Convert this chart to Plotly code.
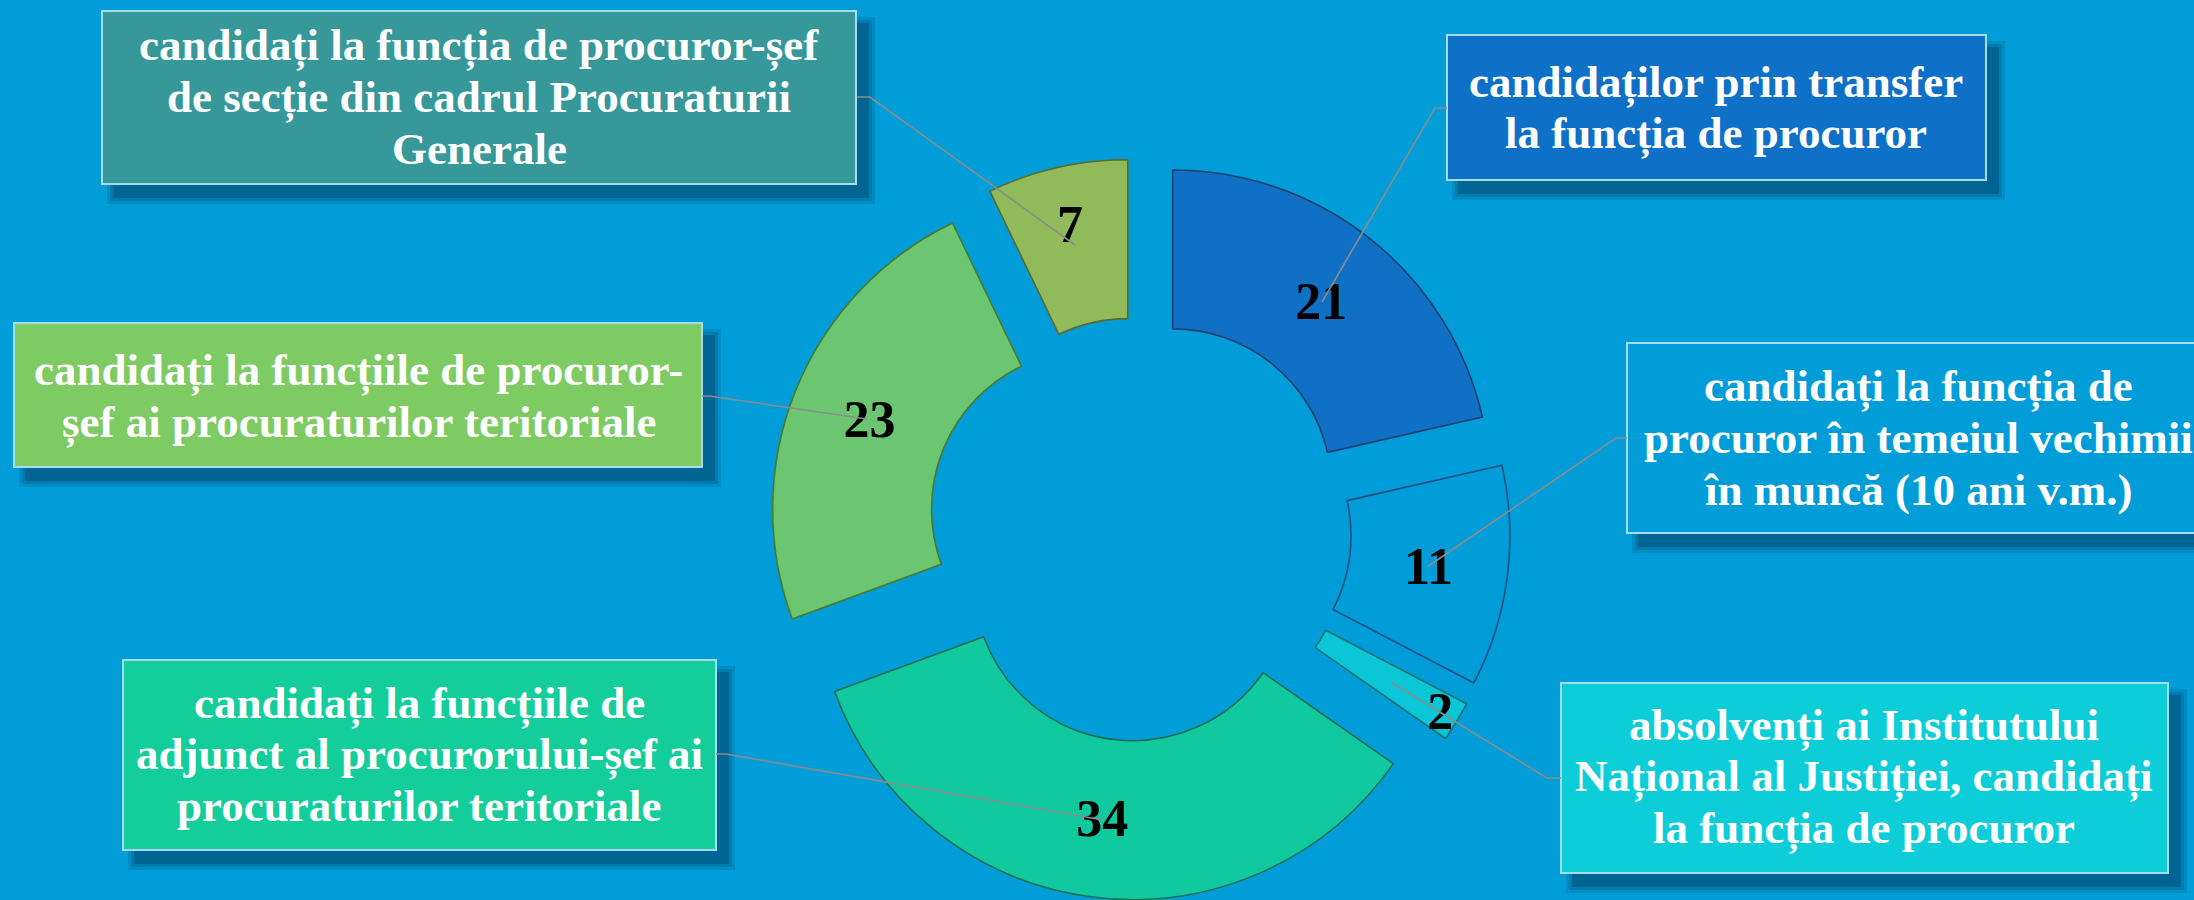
import plotly.graph_objects as go

# ---------------- data ----------------
categories = [
    "candidaților prin transfer la funcția de procuror",
    "candidați la funcția de procuror în temeiul vechimii în muncă (10 ani v.m.)",
    "absolvenți ai Institutului Național al Justiției, candidați la funcția de procuror",
    "candidați la funcțiile de adjunct al procurorului-șef ai procuraturilor teritoriale",
    "candidați la funcțiile de procuror-șef ai procuraturilor teritoriale",
    "candidați la funcția de procuror-șef de secție din cadrul Procuraturii Generale",
]
values = [21, 11, 2, 34, 23, 7]
slice_colors = ["#0f70c6", "#009dd8", "#0bc6d6", "#10c99f", "#6bc571", "#91bb5a"]
slice_lines = ["#1b3f6e", "#1c4f80", "#1a7272", "#1e6e50", "#4a7a2a", "#5d6a2a"]

# callout box text lines (same order as categories)
box_lines = [
    ["candidaților prin transfer", "la funcția de procuror"],
    ["candidați la funcția de", "procuror în temeiul vechimii", "în muncă (10 ani v.m.)"],
    ["absolvenți ai Institutului", "Național al Justiției, candidați", "la funcția de procuror"],
    ["candidați la funcțiile de", "adjunct al procurorului-șef ai", "procuraturilor teritoriale"],
    ["candidați la funcțiile de procuror-", "șef ai procuraturilor teritoriale"],
    ["candidați la funcția de procuror-șef", "de secție din cadrul Procuraturii", "Generale"],
]
box_fills = ["#0e70c7", "#009dd8", "#0dcdd9", "#13cd9b", "#7ecb63", "#369899"]

W, H = 2194, 900
BG = "#009dd8"

# layout geometry (pixels): box rect, text centre x, first line centre y
boxes = [
    dict(x0=1447, y0=35, x1=1986, y1=180, tx=1716, ty=82),
    dict(x0=1627, y0=343, x1=2215, y1=533, tx=1918, ty=386.5),
    dict(x0=1561, y0=683, x1=2168, y1=873, tx=1864, ty=725),
    dict(x0=123, y0=660, x1=716, y1=850, tx=419, ty=703),
    dict(x0=14, y0=323, x1=702, y1=467, tx=359, ty=370.5),
    dict(x0=102, y0=11, x1=856, y1=184, tx=479, ty=45.8),
]
leaders = [
    [(1447, 108), (1435, 108), (1322, 302)],
    [(1627, 438), (1616, 438), (1427, 567)],
    [(1561, 778), (1547, 778), (1391, 682)],
    [(716, 754), (726, 754), (1103, 820)],
    [(702, 396), (709, 396), (867, 419)],
    [(857, 97), (870, 97), (1075, 245)],
]
LINE_STEP = 51.7


def px(x):
    return x / W


def py(y):
    return 1 - y / H


fig = go.Figure()
fig.add_trace(go.Pie(
    labels=categories,
    values=values,
    hole=0.5,
    pull=[0.167] * len(values),
    sort=False,
    direction="clockwise",
    rotation=0,
    marker=dict(colors=slice_colors, line=dict(color=slice_lines, width=1.6)),
    texttemplate="<b>%{value}</b>",
    textposition="inside",
    insidetextorientation="horizontal",
    textfont=dict(family="Liberation Serif, Times New Roman, serif", size=52, color="black"),
    hoverinfo="label+value",
    showlegend=False,
    domain=dict(x=[0.3194, 0.7194], y=[0.0, 0.824]),
))

shapes = []
annotations = []
for b, lines, fill in zip(boxes, box_lines, box_fills):
    # soft shadow
    for e, a in [(7, 0.12), (4, 0.16), (1, 0.26)]:
        shapes.append(dict(
            type="rect", xref="paper", yref="paper", layer="below",
            x0=px(b["x0"] + 12 - e), x1=px(b["x1"] + 12 + e),
            y0=py(b["y1"] + 13 + e), y1=py(b["y0"] + 13 - e),
            fillcolor=f"rgba(0,35,65,{a})", line=dict(width=0),
        ))
    shapes.append(dict(
        type="rect", xref="paper", yref="paper", layer="below",
        x0=px(b["x0"]), x1=px(b["x1"]), y0=py(b["y1"]), y1=py(b["y0"]),
        fillcolor=fill, line=dict(color="#a6dcf0", width=2),
    ))
    for i, t in enumerate(lines):
        annotations.append(dict(
            text=f"<b>{t}</b>", xref="paper", yref="paper",
            x=px(b["tx"]), y=py(b["ty"] + i * LINE_STEP),
            xanchor="center", yanchor="middle", showarrow=False,
            font=dict(family="Liberation Serif, Times New Roman, serif", size=45, color="white"),
        ))

for pts in leaders:
    path = "M " + " L ".join(f"{px(x)},{py(y)}" for x, y in pts)
    shapes.append(dict(
        type="path", xref="paper", yref="paper", layer="above", path=path,
        line=dict(color="#8c8c8c", width=1.6),
    ))

fig.update_layout(
    width=W, height=H,
    margin=dict(l=0, r=0, t=0, b=0),
    paper_bgcolor=BG, plot_bgcolor=BG,
    shapes=shapes, annotations=annotations,
    uniformtext=dict(minsize=52, mode="show"),
)

fig.write_html(
    "out.html",
    config={"displayModeBar": False},
    post_script="document.body.style.margin='0';document.body.style.background='" + BG + "';",
)
